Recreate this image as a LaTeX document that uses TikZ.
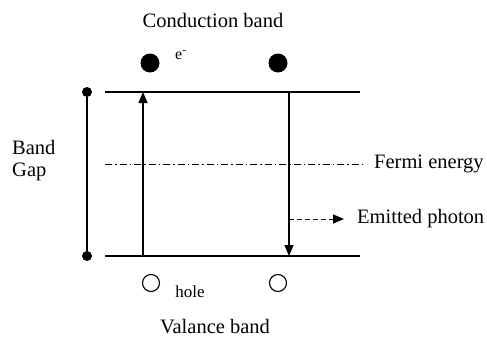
\documentclass[tikz,border=0pt]{standalone}
\usepackage{fontspec}
\setmainfont{Liberation Serif}
\usetikzlibrary{arrows.meta}
\begin{document}
\begin{tikzpicture}[x=1pt,y=-1pt,
  lbl/.style={font=\fontsize{20.5}{23}\selectfont, inner sep=0pt},
  band/.style={line width=1.3pt},
  elec/.style={circle, fill=black, minimum size=19pt, inner sep=0pt},
  holec/.style={circle, draw=black, line width=1.1pt, minimum size=17pt, inner sep=0pt},
  dotc/.style={circle, fill=black, minimum size=10pt, inner sep=0pt},
  tip/.style={-{Triangle[length=11pt,width=9pt]}}]
\useasboundingbox (0,0) rectangle (487,337);
% texts
\node[lbl] (cb) at (213,20) {Conduction band};
\node[lbl] (vb) at (215,327) {Valance band};
\node[lbl, anchor=west] (band) at (12,147) {Band};
\node[lbl, anchor=west] (gap) at (12,172) {Gap};
\node[lbl, anchor=west] (fermi) at (374,164) {Fermi energy};
\node[lbl, anchor=west] (photon) at (357,219) {Emitted photon};
\node[lbl, font=\fontsize{16}{18}\selectfont, anchor=west] (em) at (175,55) {e\textsuperscript{-}};
\node[lbl, font=\fontsize{17}{19}\selectfont] (hole) at (190,292) {hole};
% band lines
\coordinate (tl) at (105,92);
\coordinate (tr) at (360,92);
\coordinate (bl) at (105,256);
\coordinate (br) at (360,256);
\draw[band] (tl) -- (tr);
\draw[band] (bl) -- (br);
% fermi
\coordinate (fl) at (105,164);
\coordinate (fr) at (362,164);
\draw[line width=0.9pt, dash pattern=on 7pt off 3pt on 1.5pt off 3pt] (fl) -- (fr);
% band gap marker
\node[dotc] (gt) at (87,92) {};
\node[dotc] (gb) at (87,256) {};
\draw[band] (gt) -- (gb);
% electrons and holes
\node[elec] (e1) at (150,63) {};
\node[elec] (e2) at (278,63) {};
\node[holec] (h1) at (151,283) {};
\node[holec] (h2) at (278,283) {};
% transitions
\coordinate (ua) at (143,256);
\coordinate (ub) at (143,92);
\draw[band, tip] (ua) -- (ub);
\coordinate (da) at (289,92);
\coordinate (db) at (289,256);
\draw[band, tip] (da) -- (db);
\coordinate (pa) at (289,219);
\coordinate (pb) at (344,219);
\draw[line width=1pt, dash pattern=on 5pt off 3pt, tip] (pa) -- (pb);
\end{tikzpicture}
\end{document}
